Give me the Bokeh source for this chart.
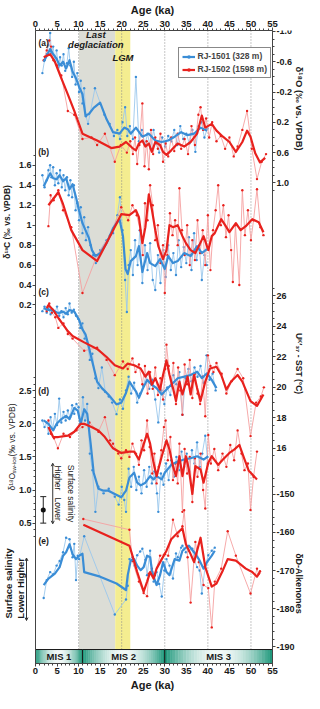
import math
from bokeh.plotting import figure
from bokeh.models import (Range1d, LinearAxis, FixedTicker, Label, Legend, LegendItem,
                          Arrow, OpenHead)
from bokeh.embed import file_html
from bokeh.resources import INLINE

# ---------------------------------------------------------------- data
# (a) benthic d18O (per mil VPDB)
A_BLUE_RAW = [(1.6,-0.45),(2.1,-0.62),(2.6,-0.70),(3.0,-0.82),(3.4,-0.98),(3.7,-0.72),(4.1,-0.80),(4.5,-0.60),(4.9,-0.75),(5.3,-0.52),(5.7,-0.66),(6.1,-0.55),(6.5,-0.70),(6.9,-0.48),(7.3,-0.58),(7.7,-0.78),(8.1,-0.55),(8.5,-0.40),(8.9,-0.60),(9.3,-0.30),(9.7,-0.45),(10.1,-0.20),(10.5,-0.35),(10.9,-0.05),(11.3,-0.25),(11.7,0.12),(12.2,0.22),(13.8,-0.25),(16.0,0.10),(17.2,0.22),(18.2,0.38),(19.0,0.30),(19.6,0.42),(20.2,0.20),(20.8,0.00),(21.3,0.38),(21.9,0.25),(22.6,0.42),(23.3,-0.40),(24.0,0.45),(24.7,0.30),(25.4,0.50),(26.0,0.35),(26.7,0.55),(27.4,0.30),(28.0,0.48),(28.7,0.60),(29.4,0.40),(30.1,0.52),(30.8,0.38),(31.5,0.45),(32.2,0.30),(32.9,0.50),(33.6,0.25),(34.3,0.42),(35.0,0.35),(35.7,0.48),(36.4,0.30),(37.1,0.59),(37.8,0.25),(38.5,0.20),(39.2,0.40),(39.9,0.28)]
A_BLUE_SMOOTH = [(1.9,-0.60),(3.4,-0.77),(4.1,-0.70),(4.9,-0.64),(5.6,-0.55),(6.4,-0.60),(7.1,-0.51),(7.9,-0.62),(8.6,-0.47),(9.4,-0.38),(10.1,-0.27),(10.9,-0.17),(11.6,0.11),(12.4,0.09),(13.5,0.01),(15.0,-0.06),(16.5,0.16),(18.0,0.33),(19.5,0.35),(20.6,0.27),(21.4,0.29),(22.1,0.35),(23.3,0.27),(24.8,0.39),(26.3,0.35),(27.8,0.44),(29.3,0.46),(30.8,0.44),(32.3,0.39),(33.8,0.33),(35.3,0.37),(36.8,0.35),(38.3,0.27),(39.8,0.31)]
A_RED_RAW = [(1.9,-0.62),(2.6,-0.75),(3.2,-0.88),(3.6,-0.80),(4.2,-0.62),(5.0,-0.55),(6.0,-0.42),(7.5,0.05),(9.0,0.10),(10.9,0.42),(13.0,0.40),(14.3,0.50),(16.1,0.35),(18.4,0.72),(19.8,0.50),(21.2,0.60),(22.0,0.45),(22.6,0.62),(23.1,0.40),(23.6,0.75),(24.1,0.50),(24.8,-0.05),(25.3,0.78),(25.8,0.45),(26.3,0.82),(26.8,0.30),(27.3,0.62),(27.8,0.40),(28.4,0.55),(29.0,0.35),(29.6,0.72),(30.2,0.48),(30.8,0.65),(31.5,0.40),(32.2,0.58),(33.0,0.35),(33.8,0.55),(34.6,0.42),(35.4,0.62),(36.2,0.25),(37.0,0.50),(37.8,0.10),(38.3,0.00),(38.9,0.30),(39.6,0.15),(40.3,0.40),(41.0,0.20),(42.0,0.45),(43.0,0.38),(44.0,0.55),(45.0,0.40),(46.0,0.65),(46.9,0.52),(48.0,0.30),(49.1,0.05),(50.2,0.55),(51.4,0.95),(52.5,0.72),(53.5,0.62)]
A_RED_SMOOTH = [(1.9,-0.66),(3.4,-0.70),(4.5,-0.60),(6.0,-0.38),(7.5,-0.17),(9.0,0.05),(10.9,0.35),(14.3,0.44),(17.6,0.54),(19.5,0.52),(21.0,0.46),(22.5,0.54),(23.3,0.57),(24.0,0.48),(24.8,0.44),(25.5,0.52),(26.3,0.48),(27.0,0.59),(27.8,0.46),(28.9,0.50),(29.6,0.59),(30.4,0.63),(31.5,0.57),(33.0,0.48),(34.5,0.52),(36.0,0.46),(37.5,0.35),(38.6,0.11),(39.4,0.27),(40.9,0.22),(42.0,0.31),(43.5,0.39),(45.0,0.46),(46.5,0.59),(48.0,0.46),(49.1,0.31),(49.9,0.39),(51.0,0.61),(52.1,0.73),(53.3,0.67)]

# (b) benthic d13C (per mil VPDB)
B_BLUE_RAW = [(1.6,1.50),(2.1,1.38),(2.6,1.45),(3.0,1.55),(3.4,1.60),(3.7,1.48),(4.1,1.58),(4.5,1.40),(4.9,1.52),(5.3,1.42),(5.7,1.55),(6.1,1.38),(6.5,1.50),(6.9,1.35),(7.3,1.48),(7.7,1.30),(8.1,1.45),(8.5,1.28),(8.9,1.40),(9.3,1.15),(9.7,1.22),(10.1,1.05),(10.5,1.18),(10.9,0.92),(11.3,1.08),(11.7,0.85),(12.2,0.98),(12.8,0.80),(13.4,0.70),(14.0,0.62),(15.0,0.75),(16.5,0.85),(18.0,0.92),(19.0,1.10),(19.6,1.28),(20.2,0.95),(20.8,0.45),(21.2,0.13),(21.6,0.60),(22.1,0.75),(22.6,0.50),(23.1,0.85),(23.7,0.60),(24.2,0.95),(24.8,0.42),(25.4,0.80),(26.0,0.55),(26.6,0.82),(27.2,0.45),(27.8,0.35),(28.4,0.70),(29.0,0.42),(29.6,0.75),(30.2,0.48),(30.8,0.80),(31.4,0.55),(32.0,0.72),(32.6,0.50),(33.2,0.85),(33.8,0.58),(34.4,0.78),(35.0,0.62),(35.6,0.88),(36.2,0.55),(36.8,0.92),(37.4,0.65),(38.0,0.80),(38.6,0.45),(39.2,0.70),(39.8,0.60)]
B_BLUE_SMOOTH = [(1.9,1.39),(3.4,1.52),(4.1,1.47),(4.9,1.46),(5.6,1.50),(6.4,1.44),(7.1,1.47),(7.9,1.36),(8.6,1.41),(9.4,1.28),(10.1,1.15),(10.9,1.02),(11.6,0.95),(12.4,0.87),(13.1,0.75),(13.9,0.69),(15.0,0.72),(16.5,0.82),(18.0,0.97),(19.5,1.06),(20.3,0.89),(20.9,0.56),(21.4,0.51),(22.1,0.64),(23.3,0.69),(24.0,0.79),(24.8,0.53),(25.9,0.72),(26.6,0.62),(27.8,0.59),(28.9,0.66),(30.0,0.56),(30.8,0.69),(31.9,0.62),(33.0,0.64),(34.5,0.72),(36.0,0.69),(37.5,0.79),(38.6,0.72),(39.8,0.76)]
B_RED_RAW = [(3.0,0.99),(3.5,1.30),(4.2,1.25),(5.3,1.35),(6.4,1.15),(8.3,0.98),(10.9,0.32),(14.3,0.70),(17.3,0.90),(19.9,1.18),(21.5,1.05),(22.5,1.20),(23.5,1.10),(24.3,0.95),(24.9,0.70),(25.4,1.22),(26.0,1.05),(26.6,1.40),(27.2,1.20),(27.8,0.85),(28.4,1.00),(29.0,0.62),(29.6,0.80),(30.0,0.32),(30.6,0.70),(31.2,1.12),(31.8,0.90),(32.4,1.05),(33.0,0.80),(33.4,1.37),(34.0,0.95),(34.6,0.70),(35.2,1.00),(35.8,0.60),(36.4,0.85),(37.0,0.65),(37.6,1.05),(38.2,0.72),(38.8,0.95),(39.4,0.60),(40.0,1.10),(40.6,0.55),(41.2,0.95),(41.8,1.15),(42.4,1.40),(43.0,1.00),(43.6,1.20),(44.2,0.88),(44.8,1.10),(45.4,0.75),(45.8,0.43),(46.4,1.00),(47.3,0.40),(48.0,1.35),(48.6,0.90),(49.3,1.15),(50.0,0.85),(50.6,1.05),(51.4,1.36),(52.2,0.98),(52.9,0.90)]
B_RED_SMOOTH = [(3.0,1.20),(5.3,1.33),(6.4,1.21),(8.3,0.95),(10.9,0.75),(14.3,0.64),(17.3,0.89),(19.9,1.11),(21.8,1.10),(23.3,1.15),(24.0,1.08),(24.8,0.82),(25.5,0.98),(26.3,1.31),(27.0,1.16),(27.8,0.95),(28.5,0.79),(29.6,0.66),(30.4,0.75),(31.1,1.00),(31.9,0.98),(33.0,1.00),(34.1,0.89),(34.9,0.82),(36.0,0.75),(37.1,0.72),(37.9,0.79),(39.0,0.89),(40.1,0.75),(40.9,0.89),(41.6,0.92),(43.1,1.06),(44.3,0.98),(45.0,0.93),(46.5,1.02),(47.6,0.95),(48.8,0.99),(50.3,1.06),(51.8,1.03),(52.9,0.93)]

# (c) UK'37-SST (deg C)
C_BLUE_RAW = [(1.6,25.0),(2.1,25.3),(2.6,24.9),(3.0,25.2),(3.5,24.8),(4.0,25.1),(4.5,24.9),(5.0,25.3),(5.5,24.7),(6.0,25.0),(6.5,24.6),(7.0,25.2),(7.5,24.8),(7.9,25.5),(8.4,24.9),(8.9,25.1),(9.4,24.7),(9.9,24.5),(10.4,23.9),(10.9,24.2),(11.4,23.2),(12.0,22.9),(12.6,21.8),(13.2,22.2),(13.9,20.6),(14.6,19.95),(15.4,21.3),(16.2,19.7),(17.0,19.4),(17.8,19.0),(18.8,18.24),(19.6,19.2),(20.3,18.6),(21.0,19.8),(21.6,20.7),(22.2,19.6),(22.9,20.3),(23.6,19.0),(24.3,19.6),(25.0,20.1),(25.7,20.8),(26.4,19.9),(27.1,20.5),(27.8,19.2),(28.5,17.7),(29.2,19.8),(29.9,18.9),(30.6,20.0),(31.3,19.5),(32.0,20.8),(32.7,20.2),(33.4,21.0),(34.1,18.2),(34.8,20.6),(35.5,21.2),(36.2,20.4),(36.9,21.3),(37.6,20.7),(38.3,21.4),(39.0,20.3),(39.7,22.1),(40.4,20.5),(41.1,20.9),(41.8,19.8)]
C_BLUE_SMOOTH = [(1.9,25.2),(3.0,25.08),(4.1,25.04),(5.3,24.87),(6.4,24.97),(7.1,24.83),(7.9,25.08),(9.0,24.97),(10.1,24.44),(10.9,23.80),(11.6,23.48),(12.4,22.63),(13.1,21.77),(14.3,20.38),(15.4,19.95),(16.9,19.53),(18.8,18.88),(19.9,18.99),(21.0,19.63),(21.8,20.38),(22.5,20.06),(23.3,19.74),(24.0,19.31),(24.8,19.85),(25.9,20.49),(27.0,20.17),(28.1,19.95),(29.3,19.53),(30.0,19.74),(31.5,20.17),(33.0,20.60),(34.5,20.70),(36.0,20.81),(37.5,21.03),(38.6,20.60),(39.8,20.92),(40.9,20.49),(42.0,19.95)]
C_RED_RAW = [(2.6,25.0),(3.2,25.5),(3.8,24.9),(4.6,24.6),(5.3,23.9),(6.5,24.2),(7.5,23.5),(8.6,23.2),(11.3,22.4),(14.3,22.6),(16.5,21.8),(18.4,20.8),(20.3,21.7),(21.4,21.2),(22.5,21.9),(23.2,21.0),(24.0,21.5),(24.8,20.2),(25.4,21.4),(26.0,19.6),(26.6,21.0),(27.2,19.9),(27.8,21.3),(28.4,19.5),(29.0,20.6),(29.6,19.2),(30.1,21.2),(30.4,22.8),(30.9,21.4),(31.4,20.1),(32.0,21.6),(32.6,18.9),(33.1,21.3),(33.6,19.8),(34.1,18.2),(34.6,21.5),(35.2,20.2),(35.8,21.8),(36.4,19.3),(37.0,20.9),(37.6,19.6),(38.2,18.9),(38.8,20.7),(39.4,18.1),(40.0,22.1),(40.6,21.4),(41.3,21.0),(42.0,21.6),(43.2,20.9),(44.3,19.6),(45.5,20.4),(46.9,21.2),(48.2,20.6),(49.9,16.8),(51.2,19.0),(52.3,19.4),(53.0,20.0)]
C_RED_SMOOTH = [(2.6,25.2),(3.0,25.4),(4.1,25.08),(5.3,24.55),(7.5,23.69),(8.6,23.37),(11.3,22.95),(14.3,22.52),(16.5,21.99),(18.4,21.45),(20.3,21.24),(21.4,21.56),(22.9,21.45),(24.4,21.24),(25.5,20.70),(26.3,21.03),(27.0,20.17),(27.8,20.60),(28.9,19.85),(29.6,20.81),(30.4,21.77),(31.1,20.81),(31.9,19.95),(32.6,19.10),(33.4,20.38),(34.1,19.53),(35.3,20.70),(36.0,19.53),(36.8,20.81),(37.5,19.95),(38.3,19.10),(39.4,20.38),(40.5,21.24),(42.0,21.35),(43.1,20.81),(44.3,19.85),(45.4,20.38),(46.9,20.81),(48.0,20.38),(49.9,19.10),(51.4,18.78),(52.9,19.53)]

# (d) d18O sw-ice (per mil VPDB)
D_BLUE_RAW = [(1.6,2.05),(2.1,1.95),(2.6,2.02),(3.0,1.85),(3.5,2.10),(4.0,1.92),(4.5,2.15),(5.0,1.98),(5.5,2.38),(6.0,2.02),(6.5,2.18),(7.0,2.05),(7.5,2.20),(8.0,2.10),(8.5,2.28),(9.0,2.15),(9.5,2.30),(10.0,2.25),(10.5,2.00),(11.0,2.40),(11.5,2.05),(12.0,2.30),(12.6,1.55),(13.2,1.30),(13.9,0.67),(14.6,1.05),(15.8,0.95),(17.0,1.02),(18.4,0.90),(19.3,0.78),(20.0,1.05),(20.6,0.85),(21.0,0.67),(21.6,1.32),(22.2,1.05),(22.8,1.35),(23.4,1.00),(24.0,1.20),(24.6,0.95),(25.2,1.30),(25.8,1.05),(26.4,1.35),(27.0,1.10),(27.6,1.28),(28.2,0.95),(28.5,0.67),(29.1,1.25),(29.7,1.08),(30.3,1.40),(30.9,1.15),(31.5,1.45),(32.1,1.20),(32.7,1.50),(33.3,1.30),(33.9,1.58),(34.5,1.35),(35.1,1.55),(35.7,1.28),(36.3,1.60),(36.9,1.40),(37.5,1.72),(38.1,1.35),(38.7,1.55),(39.4,1.82),(40.0,1.40)]
D_BLUE_SMOOTH = [(1.9,2.05),(3.0,2.00),(4.1,1.90),(4.9,2.00),(6.0,2.07),(7.1,2.12),(7.9,2.07),(9.0,2.24),(9.8,2.20),(10.5,2.00),(11.3,2.22),(12.0,2.15),(12.8,1.70),(13.5,1.26),(14.6,1.02),(15.8,0.99),(16.9,0.99),(18.4,0.94),(19.9,0.89),(21.0,0.99),(21.8,1.19),(22.9,1.26),(23.6,1.11),(24.4,1.07),(25.5,1.11),(26.6,1.21),(27.4,1.16),(28.1,1.21),(29.3,1.16),(30.0,1.26),(31.5,1.38),(33.0,1.43),(34.5,1.46),(36.0,1.48),(37.5,1.51),(39.0,1.46),(40.1,1.51)]
D_RED_RAW = [(3.0,2.05),(3.6,1.85),(4.3,1.78),(5.2,1.63),(6.5,1.85),(8.0,1.80),(9.5,1.90),(10.9,1.95),(12.5,2.02),(14.6,1.88),(16.1,2.10),(17.3,1.75),(18.0,1.70),(19.2,1.55),(19.9,1.48),(21.0,1.60),(21.8,1.50),(22.5,1.70),(23.3,1.55),(24.0,1.38),(24.6,1.75),(25.2,1.60),(25.9,2.05),(26.5,1.65),(27.1,1.25),(27.6,1.55),(28.1,1.10),(28.6,1.35),(29.2,1.60),(29.8,1.95),(30.2,2.05),(30.7,1.45),(31.3,1.80),(31.9,1.15),(32.5,1.40),(33.0,1.10),(33.4,1.70),(34.1,0.67),(34.6,1.62),(35.2,1.25),(35.8,1.50),(36.4,0.82),(37.0,1.48),(37.6,1.20),(38.3,1.55),(38.9,1.00),(39.4,0.72),(40.1,1.83),(40.7,1.40),(41.5,1.62),(42.4,1.30),(43.4,1.55),(44.3,1.35),(45.2,1.68),(46.1,1.45),(46.9,1.90),(47.8,1.55),(48.5,1.30),(49.3,1.40),(49.9,0.70),(50.6,1.20),(51.4,1.58)]
D_RED_SMOOTH = [(3.0,1.95),(4.1,1.80),(5.3,1.80),(7.5,1.82),(9.0,1.88),(10.5,2.00),(11.3,2.00),(13.0,1.95),(14.6,1.90),(16.1,1.80),(18.0,1.63),(19.9,1.56),(21.8,1.58),(22.9,1.58),(24.0,1.46),(24.8,1.63),(25.9,1.85),(26.6,1.70),(27.4,1.41),(28.1,1.21),(29.3,1.51),(30.4,1.75),(31.1,1.61),(31.9,1.36),(32.6,1.21),(33.4,1.51),(34.1,1.21),(34.9,1.51),(35.6,1.31),(36.4,0.94),(37.1,1.36),(38.3,1.31),(39.0,1.11),(40.1,1.41),(40.9,1.51),(42.4,1.38),(43.5,1.46),(45.0,1.56),(46.1,1.61),(47.3,1.68),(48.4,1.48),(49.5,1.29),(51.4,1.16)]
# error bar drawn in panel (d)
ERR_AGE = [1.8]
ERR_VAL = [0.7]
ERR_LO = [0.5]
ERR_HI = [0.9]

# (e) dD alkenones (per mil)
E_BLUE_RAW = [(1.9,-177.2),(2.6,-172.5),(3.4,-170.4),(4.1,-171.0),(4.9,-168.7),(5.6,-167.5),(6.4,-165.2),(7.1,-161.4),(7.9,-161.8),(8.6,-166.5),(9.0,-163.0),(9.4,-172.5),(9.8,-166.1),(10.1,-167.0),(11.3,-161.0),(18.4,-181.5),(21.0,-177.6),(21.4,-174.0),(21.8,-167.0),(22.5,-166.5),(23.0,-168.7),(23.6,-166.0),(24.3,-165.0),(24.8,-164.3),(25.5,-167.2),(25.9,-171.2),(26.6,-164.8),(27.4,-172.9),(28.1,-170.4),(28.7,-173.5),(29.3,-176.8),(29.9,-170.0),(30.4,-167.0),(31.1,-168.7),(31.9,-172.1),(32.6,-165.5),(33.0,-166.5),(33.8,-164.0),(34.1,-163.5),(34.9,-165.2),(35.6,-164.8),(36.4,-164.3),(36.8,-167.0),(37.5,-169.1),(38.1,-170.0),(38.6,-176.0),(39.4,-168.7),(40.1,-166.0),(40.9,-164.8),(41.6,-164.0)]
E_BLUE_SMOOTH = [(1.9,-173.8),(3.0,-172.1),(4.5,-170.8),(5.6,-169.1),(6.4,-166.1),(7.1,-165.2),(7.9,-163.1),(8.6,-165.7),(9.4,-167.0),(10.1,-166.1),(10.9,-165.6),(11.3,-170.4),(15.0,-171.6),(18.8,-173.4),(21.0,-175.1),(21.4,-171.2),(22.1,-167.4),(22.9,-167.0),(23.6,-168.7),(24.4,-169.9),(25.1,-169.1),(25.9,-166.1),(26.6,-166.5),(27.0,-169.9),(27.4,-171.6),(28.1,-173.8),(28.9,-171.2),(29.6,-167.8),(30.4,-170.4),(31.1,-171.2),(32.3,-167.0),(33.4,-167.4),(34.1,-164.8),(34.9,-164.0),(35.6,-163.5),(36.8,-165.2),(37.9,-167.0),(39.0,-169.5),(39.8,-167.8),(40.9,-166.1),(41.6,-164.8)]
E_RED_RAW = [(11.1,-156.5),(21.8,-159.3),(22.5,-167.5),(24.0,-172.9),(25.1,-175.9),(25.9,-176.7),(26.3,-170.8),(27.0,-169.5),(27.7,-171.2),(28.9,-166.1),(30.0,-165.7),(30.8,-166.1),(31.9,-156.7),(33.0,-161.0),(34.1,-158.4),(34.5,-154.2),(35.3,-166.5),(36.0,-178.4),(37.1,-162.5),(37.9,-167.8),(39.0,-173.8),(40.1,-174.6),(40.9,-184.9),(41.6,-172.9),(43.1,-169.5),(44.6,-159.7),(46.5,-166.1),(49.9,-176.0),(51.4,-169.5),(51.8,-170.8),(52.1,-170.2)]
E_RED_SMOOTH = [(11.1,-158.0),(21.8,-163.5),(22.5,-166.1),(23.6,-170.4),(25.1,-175.5),(25.9,-172.9),(26.6,-170.4),(27.4,-172.1),(28.1,-169.5),(29.3,-167.0),(30.4,-164.8),(31.5,-161.8),(33.0,-160.1),(34.1,-158.9),(34.9,-163.1),(36.0,-165.7),(36.8,-167.8),(38.3,-161.4),(39.4,-169.1),(40.9,-174.2),(42.0,-173.4),(43.5,-169.9),(44.6,-167.0),(46.5,-167.4),(48.8,-169.5),(50.3,-170.4),(51.4,-171.6),(52.1,-170.4)]

# tick values / labels of the stacked y axes
A_TICKS = [-1.0, -0.6, -0.2, 0.2, 0.6, 1.0]
A_LABELS = ["-1.0", "-0.6", "-0.2", "0.2", "0.6", "1.0"]
B_TICKS = [0.2, 0.4, 0.6, 0.8, 1.0, 1.2, 1.4, 1.6]
B_LABELS = ["0.2", "0.4", "0.6", "0.8", "1", "1.2", "1.4", "1.6"]
C_TICKS = [16, 18, 20, 22, 24, 26]
C_LABELS = ["16", "18", "20", "22", "24", "26"]
D_TICKS = [0.5, 1.0, 1.5, 2.0, 2.5]
D_LABELS = ["0.5", "1.0", "1.5", "2.0", "2.5"]
E_TICKS = [-150, -160, -170, -180, -190]
E_LABELS = ["-150", "-160", "-170", "-180", "-190"]
X_TICKS = [0, 5, 10, 15, 20, 25, 30, 35, 40, 45, 50, 55]

# periods
DEGLACIATION = (10.1, 18.5)
LGM = (18.5, 22.0)
DOTTED_AGES = [10, 20, 30, 40, 50]
MIS_BOUNDS = [0, 10.9, 30, 55]
MIS_NAMES = ["MIS 1", "MIS 2", "MIS 3"]

# ---------------------------------------------------------------- layout
FONT = "Liberation Sans"
W, H = 304, 693
BT, BB = 30, 30
FRAME_H = H - BT - BB
X0, X1 = 0.0, 55.0
BOX_L, BOX_R = 35.0, 272.0          # canvas x of age 0 and age 55
PXK = (BOX_R - BOX_L) / (X1 - X0)
XMIN = X0 - BOX_L / PXK
XMAX = X1 + (W - BOX_R) / PXK
REF_TOP, REF_BOT, BAR_TOP = 29.0, 677.0, 662.7
SCALE = FRAME_H / (REF_BOT - REF_TOP)

# calibration of each stacked panel: value1 at vertical pos1, value2 at pos2
CAL = {"A": (-1.0, 30.0, 1.0, 185.0),
       "B": (1.6, 167.0, 0.2, 310.0),
       "C": (26.0, 300.7, 16.0, 456.7),
       "D": (2.5, 397.7, 0.5, 533.3),
       "E": (-150.0, 503.7, -190.0, 660.0)}


def pos(name, v):
    v1, p1, v2, p2 = CAL[name]
    return p1 + (v - v1) * (p2 - p1) / (v2 - v1)


def val(name, pp):
    v1, p1, v2, p2 = CAL[name]
    return v1 + (pp - p1) * (v2 - v1) / (p2 - p1)


def age_at(px):
    return X0 + (px - BOX_L) / PXK


p = figure(width=W, height=H, x_range=Range1d(XMIN, XMAX), y_range=Range1d(REF_BOT, REF_TOP),
           output_backend="svg", toolbar_location=None,
           min_border_left=0, min_border_right=0, min_border_top=BT, min_border_bottom=BB)
p.xgrid.visible = False
p.ygrid.visible = False
p.outline_line_color = None
p.background_fill_color = "white"

for n in CAL:
    p.extra_y_ranges[n] = Range1d(start=val(n, REF_BOT), end=val(n, REF_TOP))


def style_axis(ax, size="9px"):
    ax.major_label_text_font = FONT
    ax.major_label_text_font_style = "bold"
    ax.major_label_text_font_size = size
    ax.major_label_text_color = "#1a1a1a"
    ax.axis_line_color = "#444444"
    ax.major_tick_line_color = "#444444"
    ax.minor_tick_line_color = "#444444"
    ax.major_tick_out = 3
    ax.major_tick_in = 0
    ax.minor_tick_out = 2
    ax.minor_tick_in = 0
    ax.major_label_standoff = 1
    ax.axis_label_text_font = FONT
    ax.axis_label_text_font_style = "bold"
    ax.axis_label_text_font_size = "11px"
    ax.axis_label_text_color = "#1a1a1a"
    ax.axis_label_standoff = 2


# x axes (bottom and top), limited to the 0-55 ka box
xb = p.xaxis[0]
xb.ticker = FixedTicker(ticks=X_TICKS, minor_ticks=list(range(0, 56)))
xb.axis_label = "Age (ka)"
xb.bounds = (X0, X1)
style_axis(xb, "9.5px")
xt = LinearAxis(ticker=FixedTicker(ticks=X_TICKS, minor_ticks=list(range(0, 56))), axis_label="Age (ka)",
                bounds=(X0, X1))
style_axis(xt, "9.5px")
p.add_layout(xt, "above")


def ticks_for(names_ticks):
    t, ov, mn = [], {}, []
    for name, ticks, labels, minor in names_ticks:
        for tv, lab_ in zip(ticks, labels):
            pp = round(pos(name, tv), 4)
            t.append(pp)
            ov[pp] = lab_
        for mv in minor:
            mn.append(round(pos(name, mv), 4))
    return t, ov, mn


def frange(a, b, s):
    out, k = [], 0
    while a + k * s <= b + 1e-9:
        out.append(round(a + k * s, 4))
        k += 1
    return out


# left axis (panels b and d), pinned at age 0
lt, lov, lmn = ticks_for([("B", B_TICKS, B_LABELS, frange(0.1, 1.7, 0.1)),
                          ("D", D_TICKS, D_LABELS, frange(0.3, 2.7, 0.1))])
yl = p.yaxis[0]
yl.ticker = FixedTicker(ticks=lt, minor_ticks=lmn)
yl.major_label_overrides = lov
yl.fixed_location = X0
style_axis(yl)

# right axis (panels a, c and e), pinned at age 55
rt, rov, rmn = ticks_for([("A", A_TICKS, A_LABELS, frange(-1.0, 1.1, 0.1)),
                          ("C", C_TICKS, C_LABELS, frange(15.5, 26.5, 0.5)),
                          ("E", E_TICKS, E_LABELS, frange(-190, -146, 2))])
yr = LinearAxis(ticker=FixedTicker(ticks=rt, minor_ticks=rmn), fixed_location=X1)
yr.major_label_overrides = rov
style_axis(yr)
p.add_layout(yr, "right")

# background periods
p.quad(left=[DEGLACIATION[0]], right=[DEGLACIATION[1]], top=[REF_TOP], bottom=[BAR_TOP],
       fill_color="#dcddd6", line_color=None)
p.quad(left=[LGM[0]], right=[LGM[1]], top=[REF_TOP], bottom=[BAR_TOP],
       fill_color="#f4ed90", line_color=None)
p.segment(x0=DOTTED_AGES, y0=[REF_TOP] * len(DOTTED_AGES), x1=DOTTED_AGES, y1=[BAR_TOP] * len(DOTTED_AGES),
          line_color="#8c8c8c", line_dash="1 2", line_width=1)

BLUE, BLUE_L = "#3a8dd6", "#9bc7ec"
RED, RED_L = "#e8211d", "#f5a0a0"


def unzip(pairs):
    return [a for a, _ in pairs], [b for _, b in pairs]


panels = [("A", A_BLUE_RAW, A_BLUE_SMOOTH, A_RED_RAW, A_RED_SMOOTH),
          ("B", B_BLUE_RAW, B_BLUE_SMOOTH, B_RED_RAW, B_RED_SMOOTH),
          ("C", C_BLUE_RAW, C_BLUE_SMOOTH, C_RED_RAW, C_RED_SMOOTH),
          ("D", D_BLUE_RAW, D_BLUE_SMOOTH, D_RED_RAW, D_RED_SMOOTH),
          ("E", E_BLUE_RAW, E_BLUE_SMOOTH, E_RED_RAW, E_RED_SMOOTH)]
legend_r = {}
for name, br, bs, rr, rs in panels:
    for raw, col_l, col in ((br, BLUE_L, BLUE), (rr, RED_L, RED)):
        x, y = unzip(raw)
        p.line(x, y, y_range_name=name, line_color=col_l, line_width=0.9)
        sc = p.scatter(x, y, y_range_name=name, size=2.4, fill_color=col, line_color=None)
        legend_r.setdefault((col, "pt"), sc)
for name, br, bs, rr, rs in panels:
    for sm, col in ((bs, BLUE), (rs, RED)):
        x, y = unzip(sm)
        ln = p.line(x, y, y_range_name=name, line_color=col, line_width=2.2, line_join="round")
        legend_r.setdefault((col, "ln"), ln)

# error bar in (d)
p.segment(x0=ERR_AGE, y0=ERR_LO, x1=ERR_AGE, y1=ERR_HI, y_range_name="D", line_color="#222222", line_width=1)
p.scatter(ERR_AGE, ERR_LO, y_range_name="D", marker="dash", size=6, line_color="#222222")
p.scatter(ERR_AGE, ERR_HI, y_range_name="D", marker="dash", size=6, line_color="#222222")
p.scatter(ERR_AGE, ERR_VAL, y_range_name="D", size=5, fill_color="#111111", line_color=None)

# MIS bar with horizontal gradient
C0 = (22, 148, 118)
for i in range(3):
    a, b = MIS_BOUNDS[i], MIS_BOUNDS[i + 1]
    n = 40
    lefts = [a + (b - a) * k / n for k in range(n)]
    rights = [a + (b - a) * (k + 1) / n for k in range(n)]
    cols = []
    for k in range(n):
        f = 0.94 * math.sin(math.pi * (k + 0.5) / n) ** 0.9
        cols.append("#%02x%02x%02x" % tuple(int(round(C0[j] + (255 - C0[j]) * f)) for j in range(3)))
    p.quad(left=lefts, right=rights, top=[BAR_TOP] * n, bottom=[REF_BOT] * n, fill_color=cols, line_color=cols, line_width=0.5)
    p.quad(left=[a], right=[b], top=[BAR_TOP], bottom=[REF_BOT], fill_color=None, line_color="#1a1a1a", line_width=1)
    p.add_layout(Label(x=(a + b) / 2, y=(BAR_TOP + REF_BOT) / 2, text=MIS_NAMES[i], text_font=FONT,
                       text_font_size="9.5px", text_font_style="bold", text_color="#1a1a1a",
                       text_align="center", text_baseline="middle"))


def lab(text, x, y, size="9px", style="bold", angle=0.0, align="center", color="#1a1a1a"):
    p.add_layout(Label(x=x, y=y, text=text, text_font=FONT, text_font_size=size, text_font_style=style,
                       angle=angle, text_align=align, text_baseline="middle", text_color=color))


for t, yy in (("(a)", 42), ("(b)", 153), ("(c)", 297), ("(d)", 398), ("(e)", 552)):
    lab(t, 1.9, yy, size="8.5px")
lab("Last", 14.0, 33, size="9.5px", style="bold italic")
lab("deglaciation", 14.0, 43.5, size="9.5px", style="bold italic")
lab("LGM", 20.3, 57, size="9.5px", style="bold italic")

# right-hand titles
xr = age_at(298.5)
lab("δ¹⁸O (‰ vs. VPDB)", xr, 109, size="9.5px", angle=-math.pi / 2)
lab("Uᴷ′₃₇ - SST (°C)", xr, 370, size="8.5px", angle=-math.pi / 2)
lab("δD-Alkenones", xr, 595, size="9px", angle=-math.pi / 2)

# left-hand titles
lab("δ¹³C (‰ vs. VPDB)", age_at(6.5), 225, size="8.5px", angle=math.pi / 2)
xl = age_at(11.5)
lab("δ¹⁸O", xl, 500, size="8.5px", style="normal", angle=math.pi / 2, align="left")
lab("sw-ice", age_at(13.8), 482.5, size="6px", style="normal", angle=math.pi / 2, align="left")
lab("(‰ vs. VPDB)", xl, 465, size="8.5px", style="normal", angle=math.pi / 2, align="left")

# surface salinity annotation, panel (d)
lab("Surface salinity", 8.3, 503, size="8.5px", style="normal", angle=-math.pi / 2)
lab("Higher", 5.2, 487, size="8.5px", style="normal", angle=-math.pi / 2)
lab("Lower", 5.2, 519, size="8.5px", style="normal", angle=-math.pi / 2)
p.add_layout(Arrow(start=OpenHead(size=3, line_width=1, line_color="#333333"),
                   end=OpenHead(size=3, line_width=1, line_color="#333333"),
                   x_start=4.0, y_start=472, x_end=4.0, y_end=534, line_width=1, line_color="#333333"))

# surface salinity annotation, panel (e) (left margin)
lab("Surface salinity", age_at(7.5), 595, size="9.5px", angle=math.pi / 2)
lab("Lower Higher", age_at(20.0), 600, size="9.5px", angle=math.pi / 2)
p.add_layout(Arrow(start=OpenHead(size=3, line_width=1, line_color="#333333"),
                   end=OpenHead(size=3, line_width=1, line_color="#333333"),
                   x_start=age_at(26.0), y_start=569, x_end=age_at(26.0), y_end=633,
                   line_width=1, line_color="#333333"))

# legend
LEG_W = 92
leg = Legend(items=[LegendItem(label="RJ-1501 (328 m)", renderers=[legend_r[(BLUE, "ln")], legend_r[(BLUE, "pt")]]),
                    LegendItem(label="RJ-1502 (1598 m)", renderers=[legend_r[(RED, "ln")], legend_r[(RED, "pt")]])],
             location=(BOX_R - 2.5 - LEG_W, FRAME_H - (78.3 - REF_TOP) * SCALE))
leg.label_text_font = FONT
leg.label_text_font_style = "bold"
leg.label_text_font_size = "8.5px"
leg.label_height = 9
leg.glyph_height = 9
leg.glyph_width = 13
leg.label_standoff = 3
leg.padding = 3
leg.spacing = 3
leg.margin = 0
leg.border_line_color = "#111111"
leg.border_line_width = 1
leg.background_fill_alpha = 1.0
p.add_layout(leg, "center")

open("out.html", "w").write(file_html(p, INLINE))
